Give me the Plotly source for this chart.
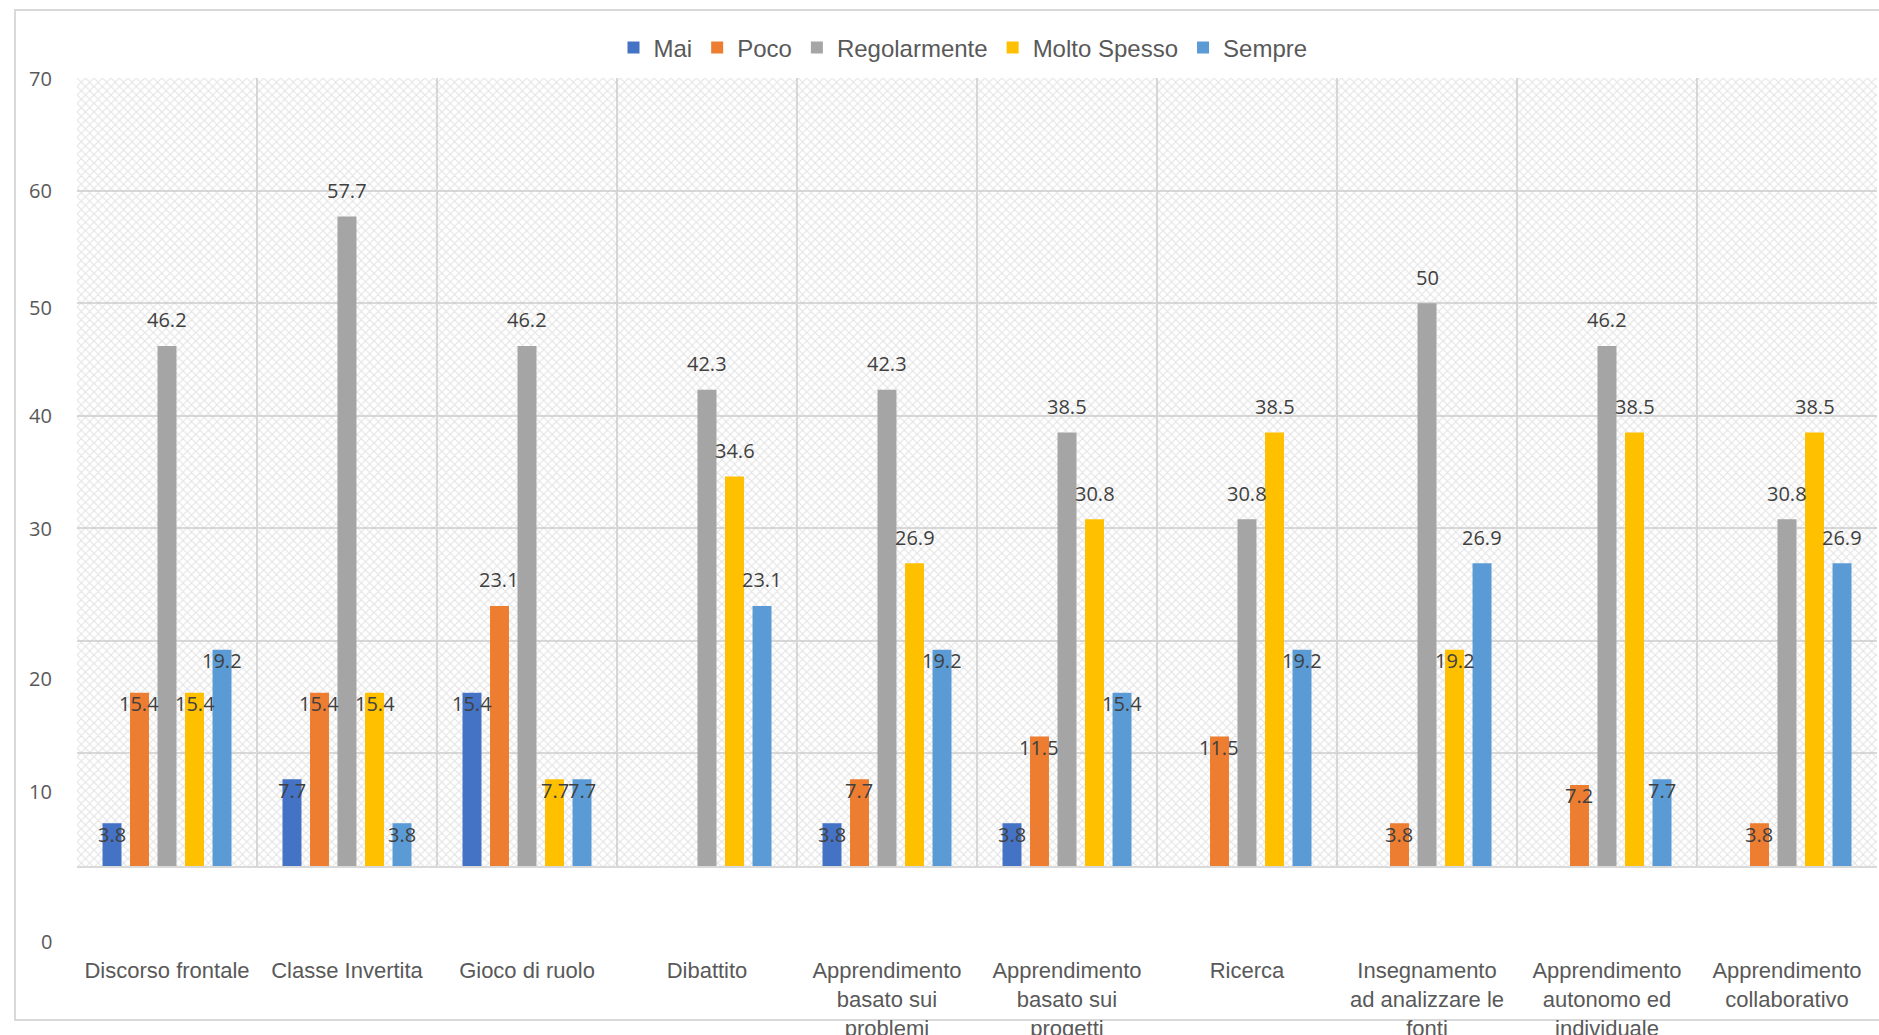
import plotly.graph_objects as go

# Teaching methods and how often they are used (percent of respondents)
categories = [
    "Discorso frontale",
    "Classe Invertita",
    "Gioco di ruolo",
    "Dibattito",
    "Apprendimento<br>basato sui<br>problemi",
    "Apprendimento<br>basato sui<br>progetti",
    "Ricerca",
    "Insegnamento<br>ad analizzare le<br>fonti",
    "Apprendimento<br>autonomo ed<br>individuale",
    "Apprendimento<br>collaborativo",
]

mai = [3.8, 7.7, 15.4, None, 3.8, 3.8, None, None, None, None]
poco = [15.4, 15.4, 23.1, None, 7.7, 11.5, 11.5, 3.8, 7.2, 3.8]
regolarmente = [46.2, 57.7, 46.2, 42.3, 42.3, 38.5, 30.8, 50, 46.2, 30.8]
molto_spesso = [15.4, 15.4, 7.7, 34.6, 26.9, 30.8, 38.5, 19.2, 38.5, 38.5]
sempre = [19.2, 3.8, 7.7, 23.1, 19.2, 15.4, 19.2, 26.9, 7.7, 26.9]

series_names = ["Mai", "Poco", "Regolarmente", "Molto Spesso", "Sempre"]
series_values = [mai, poco, regolarmente, molto_spesso, sempre]
series_colors = ["#4472C4", "#ED7D31", "#A5A5A5", "#FFC000", "#5B9BD5"]

y_tick_labels = ["70", "60", "50", "40", "30", "20", "10", "0"]
y_tick_values = [70, 60, 50, 40, 30, 20, 10, 0]
# pixel nudges of the value-axis labels
y_tick_shift = [0, 0, -4, 0, 0, -38, -38, -75]

W, H = 1879, 1035
L, R, T, B = 77, 2, 78, 169
PLOT_W = W - L - R
PLOT_H = H - T - B

fig = go.Figure()

# hatched plot-area fill (drawn underneath everything on the base axes)
fig.add_trace(go.Bar(
    x=[4.5], y=[70], width=[10],
    xaxis="x", yaxis="y",
    marker=dict(
        color="rgba(0,0,0,0)",
        line=dict(width=0),
        pattern=dict(shape="x", size=6, solidity=0.35,
                     fgcolor="#c8c8c8", bgcolor="rgba(255,255,255,0)"),
    ),
    showlegend=False, hoverinfo="skip",
))

for name, vals, col in zip(series_names, series_values, series_colors):
    fig.add_trace(go.Bar(
        name=name, x=categories, y=vals,
        xaxis="x2", yaxis="y2",
        marker=dict(color=col, line=dict(width=0)),
    ))

# value labels
n = len(series_names)
bar_step = PLOT_W / len(categories) * (1 - 0.236) / n
for j, vals in enumerate(series_values):
    for cat, v in zip(categories, vals):
        if v is None:
            continue
        fig.add_annotation(
            x=cat, y=v, xref="x2", yref="y2",
            text=f"{v:g}", showarrow=False,
            xshift=(j - (n - 1) / 2) * bar_step,
            yshift=26 if v >= 20 else -11,
            yanchor="middle",
            font=dict(family="Open Sans", size=20, color="#404040"),
        )

# value-axis labels
for lab, val, sh in zip(y_tick_labels, y_tick_values, y_tick_shift):
    fig.add_annotation(
        x=0, xref="paper", y=val, yref="y2",
        text=lab, showarrow=False, xanchor="right", yanchor="middle",
        xshift=-23, yshift=sh,
        font=dict(family="Open Sans", size=20, color="#595959"),
    )

# outer chart border
fig.add_shape(
    type="rect", xref="paper", yref="paper",
    x0=(15 - L) / PLOT_W, x1=(W + 20 - L) / PLOT_W,
    y0=(T + PLOT_H - 1020) / PLOT_H, y1=(T + PLOT_H - 10) / PLOT_H,
    line=dict(color="#d9d9d9", width=2), fillcolor="rgba(0,0,0,0)",
    layer="below",
)

fig.update_layout(
    width=W, height=H,
    margin=dict(l=L, r=R, t=T, b=B, autoexpand=False),
    paper_bgcolor="white", plot_bgcolor="white",
    barmode="group", bargap=0.236, bargroupgap=0.31,
    xaxis=dict(range=[-0.5, 9.5], visible=False, fixedrange=True),
    yaxis=dict(range=[0, 70], visible=False, fixedrange=True),
    xaxis2=dict(
        overlaying="x", type="category", tickson="boundaries",
        showgrid=True, gridcolor="#d9d9d9", gridwidth=2,
        showline=True, linecolor="#d9d9d9", linewidth=2,
        ticks="", ticklabelstandoff=84, tickangle=0, automargin=False,
        tickfont=dict(family="Liberation Sans", size=22, color="#595959"),
        range=[-0.5, 9.5],
    ),
    yaxis2=dict(
        overlaying="y", range=[0, 70], dtick=10,
        showgrid=True, gridcolor="#d9d9d9", gridwidth=2,
        showticklabels=False, zeroline=False, showline=False,
        automargin=False,
    ),
    legend=dict(
        orientation="h", x=(963 - L) / PLOT_W, xanchor="center",
        y=(PLOT_H + T - 48) / PLOT_H, yanchor="middle",
        font=dict(family="Liberation Sans", size=24, color="#595959"),
        itemwidth=30, traceorder="normal",
    ),
    showlegend=True,
)

fig.write_html("out.html")
